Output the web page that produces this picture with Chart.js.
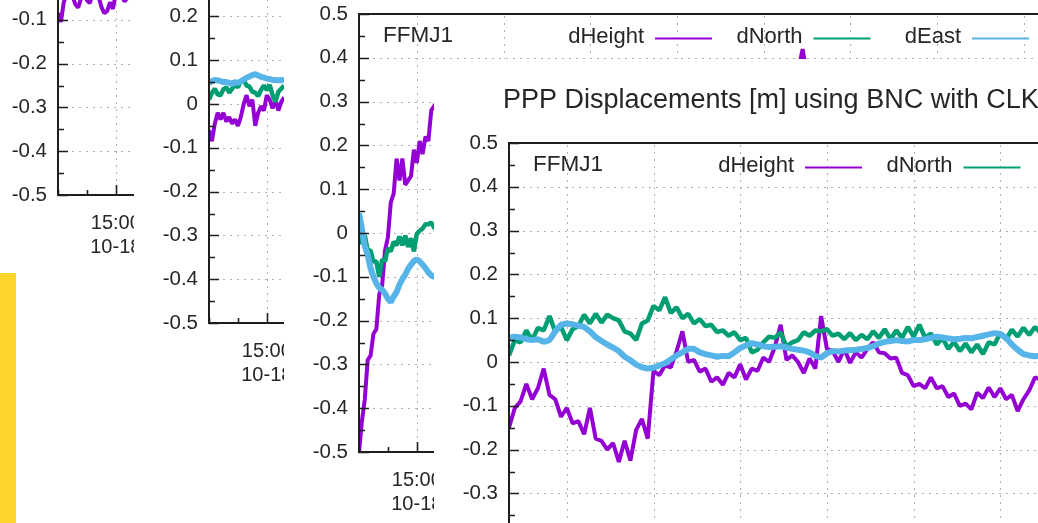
<!DOCTYPE html>
<html><head><meta charset="utf-8">
<script src="https://cdn.jsdelivr.net/npm/chart.js@4.4.1/dist/chart.umd.min.js"></script>
<style>
html,body{margin:0;padding:0;background:#fff;}
body{width:1038px;height:523px;overflow:hidden;position:relative}
.win{position:absolute;width:1000px;height:600px;background:#fff}
.win canvas{display:block}
#deskStrip{position:absolute;left:0;top:273px;width:16px;height:250px;background:#fed42b}
</style></head><body>
<div id="deskStrip"></div>
<div class="win" style="left:-17px;top:-327px"><canvas id="p1" width="1000" height="600"></canvas></div>
<div class="win" style="left:134px;top:-199px"><canvas id="p2" width="1000" height="600"></canvas></div>
<div class="win" style="left:284px;top:-70px"><canvas id="p3" width="1000" height="600"></canvas></div>
<div class="win" style="left:434px;top:59px"><canvas id="p4" width="1000" height="600"></canvas></div>
<script>
// ---------- labels & ticks ----------
const STATION = 'FFMJ1';
const SERIES = ['dHeight', 'dNorth', 'dEast'];
const COLORS = ['#9400d3', '#009e73', '#56b4e9'];
const TITLE = 'PPP Displacements [m] using BNC with CLK';
const DATE_LABEL = '10-18';
const X_START = 880, X_END = 1180;              // minutes of day (14:40 .. 19:40)
const X_TICKS = [900, 930, 960, 990, 1020, 1050, 1080, 1110, 1140, 1170];
const X_MINOR = 10;
const Y_TICKS = [-0.5, -0.4, -0.3, -0.2, -0.1, 0, 0.1, 0.2, 0.3, 0.4, 0.5];
const Y_MINOR = 0.05;

// ---------- panel 1 (back) ----------
const p1Time = [0,1,2,3,4,5,6,7,8,9,10,11,12,13,14,15,16,17,18,19,20,21,22,23,24,25,26];
const p1Height = [-0.085,-0.105,-0.06,-0.04,-0.03,-0.045,-0.065,-0.072,-0.05,-0.04,-0.055,-0.062,-0.04,-0.03,-0.045,-0.07,-0.085,-0.08,-0.06,-0.075,-0.04,-0.03,-0.045,-0.058,-0.05,-0.03,-0.02];
const p1North = [0.03,0.035,0.04,0.03,0.025,0.035,0.04,0.045,0.04,0.035,0.03,0.04,0.045,0.05,0.045,0.04,0.035,0.04,0.045,0.05,0.045,0.04,0.035,0.04,0.045,0.04,0.035];
const p1East = [0.05,0.052,0.055,0.054,0.052,0.05,0.05,0.048,0.046,0.05,0.048,0.052,0.056,0.06,0.063,0.066,0.068,0.065,0.062,0.06,0.058,0.057,0.055,0.055,0.054,0.055,0.054];

// ---------- panel 2 ----------
const p2Time = [0,1,2,3,4,5,6,7,8,9,10,11,12,13,14,15,16,17,18,19,20,21,22,23,24,25,26];
const p2Height = [-0.06,-0.085,-0.045,-0.02,-0.035,-0.02,-0.04,-0.03,-0.045,-0.035,-0.05,-0.03,0.0,0.02,-0.005,0.01,-0.05,-0.02,-0.005,-0.015,0.02,0.01,-0.01,0.01,-0.015,0.005,0.015];
const p2North = [0.01,0.025,0.035,0.022,0.02,0.034,0.038,0.026,0.035,0.045,0.038,0.052,0.055,0.042,0.04,0.028,0.026,0.018,0.032,0.042,0.032,0.044,0.02,0.005,0.028,0.035,0.042];
const p2East = [0.048,0.052,0.055,0.054,0.052,0.05,0.05,0.048,0.046,0.05,0.048,0.052,0.056,0.06,0.063,0.066,0.068,0.065,0.062,0.06,0.058,0.057,0.055,0.055,0.054,0.055,0.054];

// ---------- panel 3 ----------
const p3Time = [0,1,2,3,4,5,6,7,8,9,10,11,12,13,14,15,16,17,18,19,20,21,22,23,24,25,26,27,30,40,60,80,100,120,140,150,152,153.5,155,160,180];
const p3Height = [-0.5,-0.43,-0.38,-0.29,-0.28,-0.23,-0.22,-0.14,-0.12,-0.04,-0.01,0.07,0.09,0.17,0.12,0.17,0.11,0.12,0.13,0.19,0.16,0.21,0.18,0.22,0.21,0.28,0.29,0.3,0.3,0.32,0.3,0.33,0.31,0.34,0.33,0.35,0.37,0.42,0.36,0.34,0.33];
const p3North = [0.0,-0.025,-0.005,-0.04,-0.04,-0.065,-0.065,-0.1,-0.06,-0.065,-0.035,-0.042,-0.02,-0.028,-0.008,-0.028,-0.006,-0.032,-0.012,-0.042,-0.002,0.005,0.01,0.02,0.02,0.024,0.012,0.01];
const p3East = [0.045,0.01,-0.03,-0.05,-0.08,-0.1,-0.115,-0.125,-0.13,-0.138,-0.15,-0.158,-0.145,-0.135,-0.118,-0.105,-0.095,-0.082,-0.072,-0.064,-0.06,-0.065,-0.072,-0.08,-0.09,-0.097,-0.1,-0.1];

// ---------- panel 4 (front) ----------
const p4Time = [0,2,4,6,8,10,12,14,16,18,20,22,24,26,28,30,32,34,36,38,40,42,44,46,48,50,52,54,56,58,60,62,64,66,68,70,72,74,76,78,80,82,84,86,88,90,92,94,96,98,100,102,104,106,108,110,112,114,116,118,120,122,124,126,128,130,132,134,136,138,140,142,144,146,148,150,152,154,156,158,160,162,164,166,168,170,172,174,176,178,180,182,184];
const p4Height = [-0.15,-0.105,-0.09,-0.05,-0.085,-0.06,-0.015,-0.075,-0.085,-0.125,-0.105,-0.14,-0.135,-0.165,-0.105,-0.175,-0.18,-0.2,-0.185,-0.228,-0.18,-0.225,-0.155,-0.13,-0.175,-0.02,-0.03,-0.008,-0.012,0.025,0.07,0.0,0.005,-0.022,-0.015,-0.045,-0.035,-0.052,-0.025,-0.035,-0.005,-0.04,-0.015,-0.02,0.01,0.0,0.035,0.085,0.005,0.015,0.0,-0.025,0.008,-0.015,0.105,0.03,0.025,0.0,0.03,-0.002,0.022,0.01,0.03,0.045,0.022,0.02,0.008,0.01,-0.025,-0.03,-0.055,-0.05,-0.06,-0.035,-0.06,-0.055,-0.08,-0.072,-0.1,-0.095,-0.108,-0.07,-0.082,-0.058,-0.08,-0.06,-0.085,-0.075,-0.112,-0.085,-0.065,-0.035,-0.04];
const p4North = [0.015,0.05,0.045,0.072,0.05,0.078,0.072,0.105,0.07,0.08,0.05,0.075,0.082,0.108,0.088,0.11,0.09,0.108,0.1,0.095,0.07,0.065,0.05,0.088,0.095,0.128,0.118,0.148,0.112,0.125,0.1,0.11,0.088,0.098,0.082,0.085,0.068,0.072,0.06,0.068,0.05,0.055,0.022,0.028,0.045,0.058,0.055,0.068,0.035,0.045,0.05,0.068,0.06,0.072,0.07,0.075,0.06,0.065,0.052,0.066,0.05,0.062,0.052,0.07,0.055,0.075,0.052,0.072,0.055,0.08,0.058,0.085,0.055,0.065,0.04,0.055,0.03,0.046,0.025,0.042,0.022,0.04,0.018,0.045,0.04,0.066,0.052,0.074,0.058,0.078,0.062,0.08,0.066];
const p4East = [0.055,0.058,0.056,0.052,0.05,0.052,0.046,0.05,0.07,0.085,0.088,0.086,0.083,0.08,0.07,0.057,0.048,0.04,0.033,0.025,0.012,0.004,-0.006,-0.012,-0.015,-0.013,-0.008,-0.003,0.006,0.015,0.022,0.03,0.03,0.022,0.018,0.015,0.012,0.014,0.013,0.022,0.032,0.038,0.043,0.04,0.036,0.034,0.035,0.036,0.033,0.03,0.028,0.026,0.022,0.014,0.01,0.02,0.025,0.024,0.026,0.027,0.028,0.03,0.032,0.036,0.042,0.046,0.048,0.05,0.048,0.047,0.05,0.05,0.052,0.055,0.058,0.056,0.054,0.052,0.053,0.055,0.054,0.057,0.06,0.063,0.066,0.064,0.055,0.04,0.028,0.018,0.015,0.013,0.014];

// ---------- drawing ----------
const FONT = '"Liberation Sans", Arial, sans-serif';
const INK = '#262626';

function hhmm(v) { return Math.floor(v / 60) + ':' + String(v % 60).padStart(2, '0'); }

const gnuplotLook = {
  id: 'gnuplotLook',
  beforeDatasetsDraw(chart) {
    const { ctx, chartArea: a, scales: { x, y } } = chart;
    ctx.save();
    ctx.strokeStyle = '#b0b0b0'; ctx.lineWidth = 1; ctx.setLineDash([2, 5]);
    ctx.beginPath();
    for (const t of y.ticks) { const p = Math.round(y.getPixelForValue(t.value)) + 0.5; ctx.moveTo(a.left, p); ctx.lineTo(a.right, p); }
    for (const t of x.ticks) { const p = Math.round(x.getPixelForValue(t.value)) + 0.5; ctx.moveTo(p, a.bottom); ctx.lineTo(p, a.top); }
    ctx.stroke();
    ctx.restore();
  },
  afterDatasetsDraw(chart, args, opts) {
    const { ctx, chartArea: a, scales: { x, y } } = chart;
    ctx.save();
    ctx.strokeStyle = '#1e1e1e'; ctx.lineWidth = 2; ctx.setLineDash([]);
    ctx.strokeRect(a.left, a.top, a.right - a.left, a.bottom - a.top);
    ctx.beginPath();
    const nY = Math.round((y.max - y.min) / Y_MINOR);
    for (let i = 0; i <= nY; i++) {
      const p = Math.round(y.getPixelForValue(y.min + i * Y_MINOR)) + 0.5;
      const len = i % 2 === 0 ? 10 : 6;
      ctx.moveTo(a.left, p); ctx.lineTo(a.left + len, p);
    }
    for (let v = x.min; v <= x.max; v += X_MINOR) {
      const p = Math.round(x.getPixelForValue(v)) + 0.5;
      const len = X_TICKS.includes(v) ? 10 : 5;
      ctx.moveTo(p, a.bottom); ctx.lineTo(p, a.bottom - len);
    }
    ctx.lineWidth = 1.6;
    ctx.stroke();

    // key
    ctx.fillStyle = INK;
    ctx.font = '22.5px ' + FONT;
    ctx.textBaseline = 'middle';
    ctx.textAlign = 'left';
    ctx.fillText(STATION, a.left + 24, a.top + 22);
    ctx.font = '22px ' + FONT;
    ctx.textAlign = 'right';
    SERIES.forEach((s, i) => {
      const xr = a.left + 285 + i * 158.5;
      ctx.fillStyle = INK;
      ctx.fillText(s, xr, a.top + 23);
      ctx.strokeStyle = COLORS[i]; ctx.lineWidth = 2;
      ctx.beginPath(); ctx.moveTo(xr + 11, a.top + 24.5); ctx.lineTo(xr + 68, a.top + 24.5); ctx.stroke();
    });
    if (opts.showTitle) {
      ctx.fillStyle = INK;
      ctx.font = '27px ' + FONT;
      ctx.textAlign = 'left';
      ctx.fillText(TITLE, a.left - 6, a.top - 42);
    }
    ctx.restore();
  }
};

function makePanel(id, times, h, n, e, showTitle) {
  const mk = (vals, i, w) => ({
    label: SERIES[i],
    data: vals.map((v, k) => ({ x: X_START + times[k], y: v })),
    borderColor: COLORS[i], backgroundColor: COLORS[i],
    borderWidth: w, pointRadius: 0, tension: 0, fill: false,
    order: 3 - i, borderJoinStyle: 'bevel'
  });
  new Chart(document.getElementById(id), {
    type: 'line',
    data: { datasets: [mk(h, 0, 4), mk(n, 1, 4.5), mk(e, 2, 6)] },
    plugins: [gnuplotLook],
    options: {
      responsive: false, animation: false, events: [],
      layout: { padding: { top: 84, left: 0, right: 58, bottom: 0 } },
      plugins: {
        legend: { display: false }, tooltip: { enabled: false }, title: { display: false },
        gnuplotLook: { showTitle }
      },
      scales: {
        x: {
          type: 'linear', min: X_START, max: X_END,
          afterBuildTicks: s => { s.ticks = X_TICKS.map(v => ({ value: v })); },
          afterFit: s => { s.height = 78; s.paddingLeft = 0; s.paddingRight = 0; },
          grid: { display: false, drawTicks: false }, border: { display: false },
          ticks: {
            autoSkip: false, maxRotation: 0, minRotation: 0, padding: 16, color: INK,
            font: { family: FONT, size: 20, lineHeight: 1.2 },
            callback: v => [hhmm(v), DATE_LABEL]
          }
        },
        y: {
          min: -0.5, max: 0.5,
          afterBuildTicks: s => { s.ticks = Y_TICKS.map(v => ({ value: v })); },
          afterFit: s => { s.width = 75; s.paddingTop = 0; s.paddingBottom = 0; },
          grid: { display: false, drawTicks: false }, border: { display: false },
          ticks: {
            padding: 11, color: INK, font: { family: FONT, size: 20.5 },
            callback: v => String(Math.round(v * 10) / 10)
          }
        }
      }
    }
  });
}

makePanel('p1', p1Time, p1Height, p1North, p1East, false);
makePanel('p2', p2Time, p2Height, p2North, p2East, false);
makePanel('p3', p3Time, p3Height, p3North, p3East, false);
makePanel('p4', p4Time, p4Height, p4North, p4East, true);
</script>
</body></html>
